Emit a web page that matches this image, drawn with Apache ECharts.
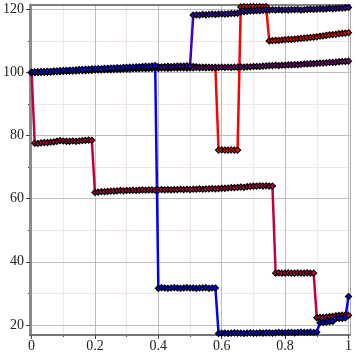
<!DOCTYPE html>
<html>
<head>
<meta charset="utf-8">
<script src="https://cdn.jsdelivr.net/npm/echarts@6/dist/echarts.min.js"></script>
<style>html,body{margin:0;padding:0;background:#fff}#c{width:355px;height:355px}</style>
</head>
<body>
<div id="c"></div>
<script>
// ---------- data ----------
const xs = [0,0.01,0.02,0.03,0.04,0.05,0.06,0.07,0.08,0.09,
0.1,0.11,0.12,0.13,0.14,0.15,0.16,0.17,0.18,0.19,
0.2,0.21,0.22,0.23,0.24,0.25,0.26,0.27,0.28,0.29,
0.3,0.31,0.32,0.33,0.34,0.35,0.36,0.37,0.38,0.39,
0.4,0.41,0.42,0.43,0.44,0.45,0.46,0.47,0.48,0.49,
0.5,0.51,0.52,0.53,0.54,0.55,0.56,0.57,0.58,0.59,
0.6,0.61,0.62,0.63,0.64,0.65,0.66,0.67,0.68,0.69,
0.7,0.71,0.72,0.73,0.74,0.75,0.76,0.77,0.78,0.79,
0.8,0.81,0.82,0.83,0.84,0.85,0.86,0.87,0.88,0.89,
0.9,0.91,0.92,0.93,0.94,0.95,0.96,0.97,0.98,0.99,1];

const pathD = [100,
100.1,100.1,100.2,100.1,100.3,100.3,100.4,100.4,100.5,100.5,
100.6,100.6,100.7,100.7,100.8,100.8,100.9,100.9,101.0,101.0,
101.1,101.0,101.1,101.2,101.2,101.3,101.2,101.3,101.4,101.4,
101.5,101.4,101.5,101.6,101.5,101.6,101.7,101.6,101.7,101.8,
101.7,101.8,101.9,101.8,101.9,101.9,102.0,101.9,102.0,102.0,
101.9,101.8,101.7,101.6,101.7,101.6,101.5,101.6,
75.4,75.5,75.4,75.4,75.5,75.4,75.4,
120.8,120.9,120.8,120.9,120.9,120.8,120.9,120.8,120.9,
110.0,110.1,110.2,110.2,110.3,110.4,110.5,110.5,110.6,110.7,110.8,
110.9,111.0,111.1,111.2,111.3,111.5,111.6,111.8,111.9,112.0,
112.1,112.3,112.4,112.5,112.6];

const pathA = [100,
77.6,77.5,77.7,77.8,77.8,77.9,78.0,78.2,78.4,78.3,78.2,78.2,78.3,78.2,78.3,78.4,78.5,78.6,78.5,
62.0,62.1,62.2,62.2,62.3,62.4,62.4,62.5,62.6,62.5,62.6,
62.6,62.7,62.6,62.7,62.8,62.7,62.8,62.8,62.7,62.8,
62.9,62.8,62.9,62.8,62.9,62.9,63.0,62.9,63.0,62.9,
63.0,63.0,63.1,63.0,63.1,63.1,63.2,63.1,63.2,63.3,
63.3,63.4,63.5,63.5,63.6,63.7,63.6,63.8,63.9,64.0,
64.0,64.1,64.0,64.1,64.0,64.0,
36.4,36.5,36.4,36.4,36.5,36.4,36.4,36.5,36.4,36.4,36.5,36.4,36.4,
22.3,22.4,22.4,22.5,22.6,22.7,22.9,23.0,23.1,23.1,23.0];

const pathE = [100,
100.0,100.1,100.1,100.1,100.2,100.2,100.3,100.3,100.3,100.4,
100.4,100.5,100.5,100.5,100.6,100.6,100.6,100.7,100.7,100.8,
100.8,100.8,100.9,100.9,100.9,101.0,101.0,101.0,101.1,101.1,
101.1,101.2,101.2,101.2,101.3,101.2,101.3,101.3,101.4,101.3,
101.4,101.4,101.3,101.4,101.5,101.4,101.5,101.5,101.4,101.5,
101.5,101.6,101.5,101.6,101.5,101.6,101.6,101.5,101.6,101.7,
101.6,101.7,101.6,101.7,101.7,101.8,101.7,101.8,101.8,101.9,
101.9,101.9,102.0,102.1,102.2,102.2,102.3,102.2,102.3,102.3,
102.4,102.4,102.5,102.5,102.6,102.7,102.7,102.8,102.8,102.9,
103.0,103.0,103.1,103.2,103.2,103.3,103.4,103.5,103.5,103.6];

const pathC = [100,
100.0,100.1,100.1,100.2,100.2,100.3,100.3,100.4,100.4,100.5,
100.5,100.6,100.6,100.7,100.7,100.8,100.8,100.9,100.9,101.0,
101.0,101.1,101.0,101.1,101.2,101.2,101.3,101.3,101.4,101.3,
101.4,101.5,101.5,101.4,101.6,101.6,101.7,101.6,101.7,101.8,
101.7,101.8,101.9,101.8,101.9,102.0,101.9,102.0,102.1,102.0,
118.2,118.3,118.2,118.4,118.3,118.4,118.5,118.4,118.5,118.6,118.5,118.6,118.7,118.7,118.8,
119.2,119.3,119.4,119.5,119.5,119.6,119.6,119.7,119.8,119.8,
119.9,119.8,119.9,119.8,119.9,119.8,119.9,119.9,120.0,119.8,
119.9,120.0,120.1,120.0,120.1,120.2,120.1,120.2,120.3,120.2,
120.3,120.4,120.4,120.5,120.6];

const pathB = [100,
100.1,100.0,100.2,100.2,100.3,100.2,100.4,100.4,100.5,100.6,
100.6,100.7,100.6,100.8,100.9,100.9,101.0,101.0,101.1,101.1,
101.2,101.1,101.3,101.3,101.4,101.4,101.5,101.4,101.6,101.6,
101.7,101.7,101.8,101.8,101.9,102.0,101.9,102.1,102.2,
31.6,31.8,31.7,31.6,31.7,31.8,31.7,31.6,31.7,31.8,31.7,31.7,31.6,31.7,31.7,31.8,31.6,31.7,31.7,
17.3,17.4,17.4,17.3,17.4,17.5,17.4,17.4,17.3,17.4,17.5,17.4,17.4,17.5,17.4,17.5,
17.5,17.4,17.5,17.6,17.5,17.5,17.6,17.6,17.5,17.6,17.7,17.6,17.6,17.7,17.6,17.7,
20.7,20.8,20.9,21.0,21.1,22.0,22.1,22.1,22.2,29.0];

const seriesList = [
  {name:'D', values: pathD, color:'#ff0000'},
  {name:'A', values: pathA, color:'#c00040'},
  {name:'E', values: pathE, color:'#800080'},
  {name:'C', values: pathC, color:'#4000c0'},
  {name:'B', values: pathB, color:'#0000ff'}
];

const xMajor = [0, 0.2, 0.4, 0.6, 0.8, 1];
const xMinor = [0.1, 0.3, 0.5, 0.7, 0.9];
const yMajor = [20, 40, 60, 80, 100, 120];
const yMinor = [30, 50, 70, 90, 110];

// ---------- chart ----------
const X_MIN = -0.005, X_MAX = 1.004, Y_MIN = 16.8, Y_MAX = 121.4;
const font = {fontFamily:'Liberation Serif', fontSize:14, color:'#222'};

const chart = echarts.init(document.getElementById('c'), null, {renderer:'canvas'});
chart.setOption({
  animation:false,
  backgroundColor:'#fff',
  grid:{left:29, right:2, top:5, bottom:20, show:false},
  xAxis:[
    {type:'value', min:X_MIN, max:X_MAX, position:'bottom', z:1,
     axisLine:{onZero:false, lineStyle:{color:'#777', width:2}},
     axisTick:{show:true, inside:false, length:4, customValues:xMajor, lineStyle:{color:'#444'}},
     axisLabel:{customValues:xMajor, margin:4, ...font, formatter:v=>String(v)},
     splitLine:{show:true, lineStyle:{color:'#bdbdbd', width:1}}},
    {type:'value', min:X_MIN, max:X_MAX, position:'bottom', z:0,
     axisLine:{show:false, onZero:false},
     axisTick:{show:true, inside:false, length:2, customValues:xMinor, lineStyle:{color:'#444'}},
     axisLabel:{show:false, customValues:xMinor},
     splitLine:{show:true, lineStyle:{color:'#f2e4ee', width:1}}},
    {type:'value', min:X_MIN, max:X_MAX, position:'top', z:1,
     axisLine:{show:true, onZero:false, lineStyle:{color:'#808080', width:2}},
     axisTick:{show:false}, axisLabel:{show:false}, splitLine:{show:false}}
  ],
  yAxis:[
    {type:'value', min:Y_MIN, max:Y_MAX, position:'left', z:1,
     axisLine:{show:true, onZero:false, lineStyle:{color:'#8c8c8c', width:3}},
     axisTick:{show:true, inside:false, length:4, customValues:yMajor, lineStyle:{color:'#444'}},
     axisLabel:{customValues:yMajor, margin:6, ...font},
     splitLine:{show:true, lineStyle:{color:'#bdbdbd', width:1}}},
    {type:'value', min:Y_MIN, max:Y_MAX, position:'left', z:0,
     axisLine:{show:false, onZero:false},
     axisTick:{show:true, inside:false, length:2, customValues:yMinor, lineStyle:{color:'#444'}},
     axisLabel:{show:false, customValues:yMinor},
     splitLine:{show:true, lineStyle:{color:'#f2e4ee', width:1}}},
    {type:'value', min:Y_MIN, max:Y_MAX, position:'right', z:1,
     axisLine:{show:true, onZero:false, lineStyle:{color:'#aaaaaa', width:1}},
     axisTick:{show:false}, axisLabel:{show:false}, splitLine:{show:false}}
  ],
  series: seriesList.map(s => ({
    name:s.name, type:'line', xAxisIndex:0, yAxisIndex:0,
    data: xs.map((x,i)=>[x, s.values[i]]),
    symbol:'diamond', symbolSize:6, showSymbol:true, showAllSymbol:true,
    lineStyle:{color:s.color, width:2.5},
    itemStyle:{color:s.color, borderColor:'#000', borderWidth:1.2},
    emphasis:{disabled:true}, z:3
  }))
});
</script>
</body>
</html>
